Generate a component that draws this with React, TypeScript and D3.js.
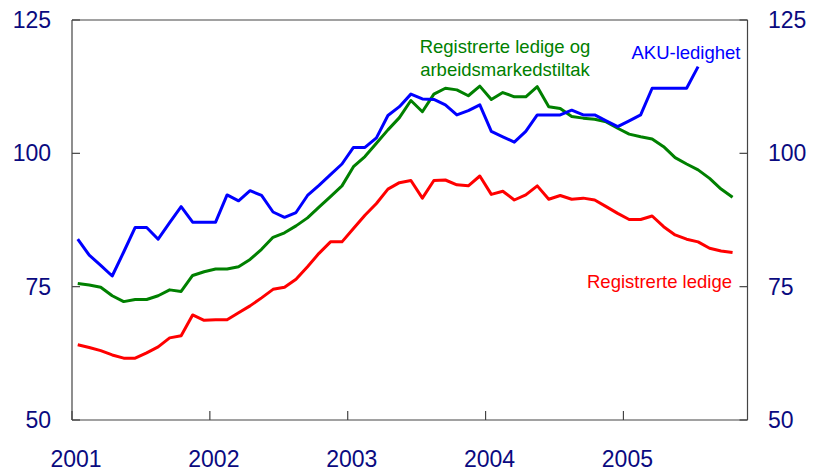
import React from "react";
import * as d3 from "d3";

const startYear = 2001;
const yearTicks = [2001, 2002, 2003, 2004, 2005];
const yTicks = [50, 75, 100, 125];

// Monthly index values, Jan 2001 onward
const akuLedighet = [
  83.9, 80.9, 79.0, 77.0, 81.5, 86.1, 86.1, 83.9, 87.0, 90.0, 87.1, 87.1,
  87.1, 92.2, 91.1, 93.0, 92.1, 89.0, 88.0, 88.9, 92.1, 94.0, 96.0, 98.0,
  101.1, 101.1, 102.9, 107.1, 108.75, 111.1, 110.2, 110.1, 109.1, 107.2, 108.0, 109.1,
  104.1, 103.1, 102.1, 104.1, 107.2, 107.2, 107.2, 108.1, 107.2, 107.2, 106.1, 105.0,
  106.1, 107.2, 112.2, 112.2, 112.2, 112.2, 116.25,
];

const ledigeOgTiltak = [
  75.6, 75.3, 74.9, 73.3, 72.2, 72.6, 72.6, 73.3, 74.4, 74.1, 77.1, 77.8,
  78.3, 78.3, 78.75, 80.1, 82.0, 84.25, 85.1, 86.4, 87.9, 89.9, 91.9, 93.9,
  97.5, 99.4, 101.9, 104.4, 106.7, 109.9, 107.8, 111.1, 112.2, 111.9, 110.8, 112.6,
  110.1, 111.4, 110.6, 110.6, 112.5, 108.75, 108.4, 106.9, 106.6, 106.4, 105.9, 104.7,
  103.6, 103.1, 102.7, 101.25, 99.2, 98.0, 96.9, 95.3, 93.3, 91.75,
];

const registrerteLedige = [
  64.1, 63.6, 63.0, 62.2, 61.6, 61.6, 62.6, 63.7, 65.4, 65.8, 69.7, 68.7,
  68.8, 68.8, 70.1, 71.4, 72.9, 74.5, 74.9, 76.4, 78.75, 81.25, 83.4, 83.4,
  85.9, 88.4, 90.6, 93.3, 94.5, 94.9, 91.6, 94.9, 95.0, 94.1, 93.9, 95.75,
  92.3, 92.9, 91.25, 92.2, 93.9, 91.4, 92.1, 91.4, 91.6, 91.25, 90.0, 88.75,
  87.6, 87.6, 88.25, 86.25, 84.7, 83.9, 83.4, 82.2, 81.7, 81.4,
];

const W = 815;
const H = 475;
const left = 72;
const right = 747.5;
const top = 20;
const bottom = 420;

const x = d3.scaleLinear().domain([startYear, startYear + 58.8 / 12]).range([left, right]);
const y = d3.scaleLinear().domain([50, 125]).range([bottom, top]);

const monthPos = (i: number) => startYear + (i + 0.5) / 12;

const line = d3
  .line<number>()
  .x((_, i) => x(monthPos(i)))
  .y((d) => y(d));

const FONT = "'Liberation Sans', Arial, Helvetica, sans-serif";
const NAVY = "#0a0a80";
const AXIS = "#444";

export default function App() {
  return (
    <svg
      width={W}
      height={H}
      style={{ position: "absolute", left: 0, top: 0, background: "#fff" }}
      fontFamily={FONT}
    >
      {/* frame */}
      <line x1={left} x2={right} y1={top} y2={top} stroke={AXIS} strokeWidth={1.2} />
      <line x1={left} x2={right} y1={bottom} y2={bottom} stroke={AXIS} strokeWidth={1.2} />
      <line x1={left} x2={left} y1={top} y2={bottom} stroke={AXIS} strokeWidth={1.2} />
      <line x1={right} x2={right} y1={top} y2={bottom} stroke={AXIS} strokeWidth={1.2} />

      {yTicks.map((t) => (
        <g key={t}>
          <line x1={left} x2={left + 8} y1={y(t)} y2={y(t)} stroke={AXIS} strokeWidth={1.2} />
          <line x1={right - 8} x2={right} y1={y(t)} y2={y(t)} stroke={AXIS} strokeWidth={1.2} />
          <text x={51} y={y(t)} dy="0.35em" textAnchor="end" fontSize={23} fill={NAVY}>
            {t}
          </text>
          <text x={768} y={y(t)} dy="0.35em" textAnchor="start" fontSize={23} fill={NAVY}>
            {t}
          </text>
        </g>
      ))}

      {yearTicks.map((t) => (
        <g key={t}>
          <line x1={x(t)} x2={x(t)} y1={bottom} y2={bottom - 9} stroke={AXIS} strokeWidth={1.2} />
          <text x={x(t) + 4} y={467} textAnchor="middle" fontSize={23} fill={NAVY}>
            {t}
          </text>
        </g>
      ))}

      <path d={line(registrerteLedige) ?? ""} fill="none" stroke="#ff0000" strokeWidth={3} strokeLinejoin="round" />
      <path d={line(ledigeOgTiltak) ?? ""} fill="none" stroke="#008000" strokeWidth={3} strokeLinejoin="round" />
      <path d={line(akuLedighet) ?? ""} fill="none" stroke="#0000ff" strokeWidth={3} strokeLinejoin="round" />

      <text x={505} y={53} textAnchor="middle" fontSize={18.5} fill="#008000">
        Registrerte ledige og
      </text>
      <text x={505} y={76} textAnchor="middle" fontSize={18.5} fill="#008000">
        arbeidsmarkedstiltak
      </text>
      <text x={740.5} y={59} textAnchor="end" fontSize={18.5} fill="#0000ff">
        AKU-ledighet
      </text>
      <text x={732} y={288} textAnchor="end" fontSize={18.5} fill="#ff0000">
        Registrerte ledige
      </text>
    </svg>
  );
}
